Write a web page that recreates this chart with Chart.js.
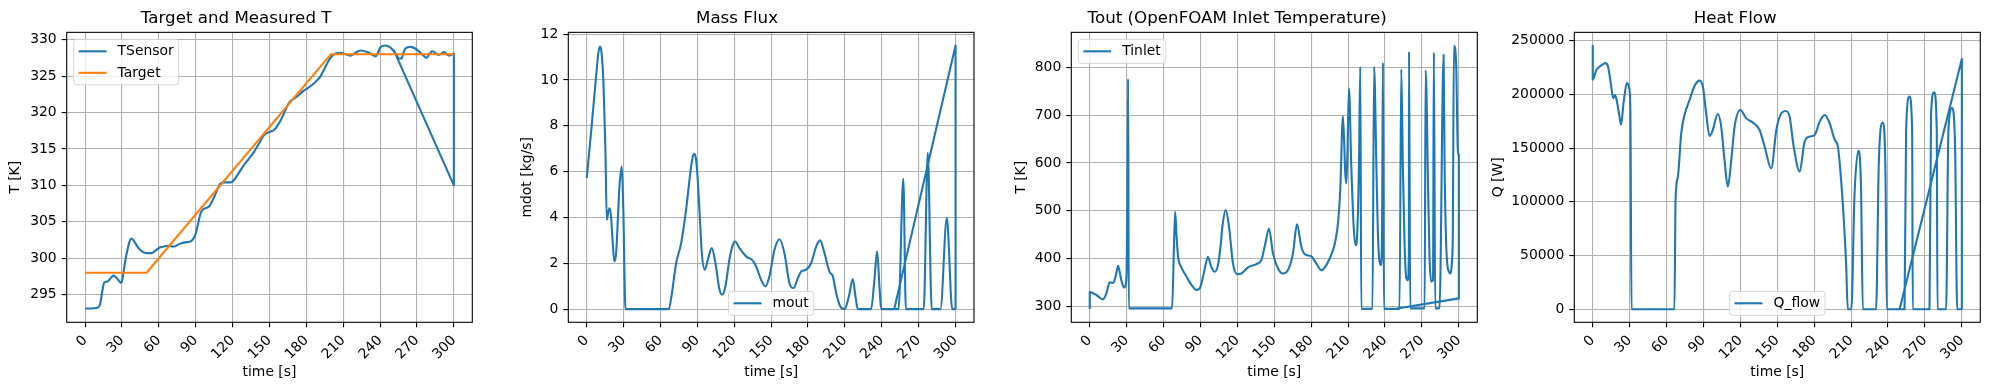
<!DOCTYPE html>
<html>
<head>
<meta charset="utf-8">
<script src="https://cdn.jsdelivr.net/npm/chart.js@4.4.0/dist/chart.umd.min.js"></script>
<style>
  html, body { margin: 0; padding: 0; background: #fff; }
  #fig { position: relative; width: 1990px; height: 390px; overflow: hidden; }
  canvas { position: absolute; top: 0; }
</style>
</head>
<body>
<div id="fig">
  <canvas id="c1" width="500" height="390" style="left:0px"></canvas>
  <canvas id="c2" width="497" height="390" style="left:500px"></canvas>
  <canvas id="c3" width="493" height="390" style="left:997px"></canvas>
  <canvas id="c4" width="500" height="390" style="left:1490px"></canvas>
</div>
<script>
// tick labels
var timeTicks = [0, 30, 60, 90, 120, 150, 180, 210, 240, 270, 300];
var tempTicks = [295, 300, 305, 310, 315, 320, 325, 330];
var massTicks = [0, 2, 4, 6, 8, 10, 12];
var inletTicks = [300, 400, 500, 600, 700, 800];
var heatTicks = [0, 50000, 100000, 150000, 200000, 250000];

// TSensor (the last two points are the jump back at the end of the run)
var tSensorTime = [0, 5, 10, 12, 14, 15.4, 18, 20.5, 23, 25.5, 28, 29.5, 31, 32.5, 34, 36, 37.7, 40, 42.5, 46.6,
  50, 54, 57, 60, 64, 67, 72.4, 76, 79, 83, 86, 88.5, 90, 92, 94, 97, 100.8, 103, 105, 108,
  110.3, 114, 118.4, 121, 125, 129.3, 133, 137.4, 141, 145.5, 148.2, 151, 153.7, 156.5, 159, 161.8, 164.5, 167.2, 170, 174,
  177, 180.8, 184, 187.5, 191.6, 195, 198.4, 201, 203.8, 207.9, 212, 216, 220, 224, 229.5, 233, 236.3, 238.5, 240.4, 244.4,
  248.5, 252.6, 255.5, 257.5, 259, 260.7, 264.8, 270.2, 274, 277.8, 280, 282.4, 287.8, 291.9, 296, 300, 300, 251];
var tSensorK = [293.1, 293.1, 293.2, 293.6, 295.5, 296.6, 296.8, 297.2, 297.6, 297.3, 296.8, 296.6, 297.8, 299.5, 300.8, 302.2, 302.7, 302.3, 301.6, 300.9,
  300.7, 300.7, 301.0, 301.4, 301.6, 301.7, 301.6, 301.9, 302.1, 302.2, 302.3, 302.8, 303.4, 304.8, 306.2, 306.8, 307.1, 307.7, 308.4, 309.6,
  310.3, 310.4, 310.4, 310.7, 311.7, 312.8, 313.6, 314.6, 315.6, 316.9, 317.2, 317.4, 317.6, 318.2, 318.9, 319.9, 320.9, 321.6, 321.9, 322.4,
  322.9, 323.3, 323.7, 324.2, 325.0, 326.1, 327.2, 327.8, 328.1, 328.2, 328.0, 327.8, 328.2, 328.5, 328.3, 328.0, 327.7, 328.3, 329.0, 329.2,
  328.9, 328.1, 327.4, 327.4, 328.2, 328.8, 329.0, 328.6, 328.0, 327.5, 328.0, 328.4, 327.9, 328.3, 327.8, 328.1, 310.0, 328.6];

var targetTime = [0, 50, 200, 300];
var targetK = [298, 298, 328, 328];

// mout
var moutTime = [0, 3.5, 7.6, 9.5, 10.8, 12, 13.6, 15.2, 16.3, 17.1, 18.4, 19.8, 21, 22.5, 23.9, 25.3, 26.6, 28.5, 29.8, 31.5,
  66.7, 69, 72.7, 76.8, 80.8, 84.9, 86.5, 87.6, 89, 90.3, 92, 93.6, 96, 98.5, 101.7, 104.7, 108, 110.1, 112.8, 116,
  118.5, 120.7, 124.2, 129.6, 134.5, 137.8, 141.8, 145.4, 148.6, 152.7, 156.8, 160.8, 164.9, 168.2, 171.7, 174.4, 178.5, 182.5, 186.6, 189.8,
  193.4, 197.4, 200.2, 202.9, 206.1, 209.7, 213.2, 216.4, 218.6, 220.5, 231.3, 234, 236.2, 238.1, 239.5, 253.6, 257.5, 259.6, 274.1, 277.4,
  280.6, 287.7, 292.9, 297.3, 300, 300, 250.1];
var moutVal = [5.72, 7.7, 10.15, 11.2, 11.46, 11.2, 9.86, 6.95, 3.9, 4.1, 4.4, 4.04, 3.0, 2.08, 2.44, 3.9, 5.35, 6.22, 4.2, 0,
  0, 0.6, 2.0, 2.88, 4.33, 6.22, 6.7, 6.78, 6.5, 5.64, 4.0, 2.44, 1.72, 2.15, 2.66, 2.0, 0.84, 0.63, 0.99, 2.15,
  2.75, 2.95, 2.66, 2.3, 2.15, 1.86, 1.28, 0.99, 1.43, 2.59, 3.05, 2.44, 1.13, 0.92, 1.35, 1.64, 1.72, 2.0, 2.73, 3.0,
  2.44, 1.64, 1.43, 0.7, 0.12, 0, 0.55, 1.31, 0.55, 0, 0, 1.28, 2.52, 0.99, 0, 0, 5.69, 0, 0, 6.82,
  0, 0, 3.98, 0, 0, 11.5, 0];

// Tinlet
var tinletTime = [0, 0, 5.4, 10.8, 13.6, 16.3, 18.4, 19.8, 21.5, 23, 24.5, 25.7, 27.9, 29.8, 30.5, 31.2, 31.7, 66.9, 68.5, 69.4,
  70.5, 71.8, 74.5, 78.6, 82.7, 86.7, 89.4, 92.1, 94, 96, 98.8, 101.5, 104.2, 106.5, 107.8, 110.5, 113.2, 116.4, 119.7, 123.2,
  128.6, 135.4, 139.5, 142.7, 145.7, 148.9, 153, 157, 161.1, 165.2, 168.4, 172, 174.7, 180, 184.1, 188.2, 192.3, 197.7, 199.8, 202,
  203.6, 205.8, 207.7, 208.5, 209.3, 210.7, 212.6, 214.5, 216.1, 217.4, 218.8, 219.9, 220.7, 229.8, 231.1, 233, 234.2, 235.6, 237, 237.7,
  238.3, 239.1, 251.8, 253.2, 254.5, 255.9, 257.3, 258.6, 259.4, 259.5, 260.5, 272.2, 273, 275.2, 276.2, 277.6, 279, 279.7, 280.8, 284.3,
  287.6, 288.4, 289.7, 291.9, 293, 294.5, 295.1, 296, 297.8, 299.2, 300, 300, 250];
var tinletK = [295, 330, 324, 315, 328, 351, 349, 352, 368, 385, 370, 355, 339.6, 359, 500, 776, 296, 296, 430, 498,
  450, 404, 382, 362.5, 345, 334.7, 338, 362.5, 385, 404, 383, 372.5, 386.5, 430, 466.7, 501.5, 466.7, 390, 367.6, 369,
  381.6, 388.6, 397, 431.8, 463, 411, 379.5, 369, 376, 411, 472, 424.8, 409.5, 405, 390, 376, 386.5, 418, 438.8, 480,
  543, 698, 578, 557, 606, 756, 592, 466.7, 428, 452.7, 592, 801, 295, 295, 801, 592, 453, 393, 386.5, 501,
  810, 295, 295, 796, 592, 430, 359, 355, 420, 833, 296, 296, 794, 522, 400, 352, 355, 831, 296, 296,
  826, 600, 430, 372.5, 369, 400, 452.7, 845, 807, 626, 616, 317, 296];

// Q_flow
var qTime = [0, 0, 2.8, 6.9, 10.5, 12.5, 14.7, 16.7, 18, 19.4, 21.7, 23, 25, 27.8, 29.7, 30.6, 31.5, 66.4, 67.3, 69.2,
  71.9, 74.6, 78.7, 82.7, 86.8, 89.5, 92.2, 94.9, 97.1, 101.7, 104.4, 107.1, 109.8, 112.6, 115.3, 119.9, 124.8, 130.2, 135.6, 139.7,
  145.1, 149.2, 153.2, 156.8, 160, 163.3, 168.2, 172.2, 176.3, 180.4, 184.4, 188.5, 192.6, 196.7, 199.2, 203.2, 205.9, 207.3, 210.2, 212.7,
  216, 218.1, 219.5, 230.3, 232.5, 235.7, 237.9, 239, 253.4, 254.7, 257.4, 259.6, 260.1, 273.7, 275, 277.5, 279.6, 280.2, 287.2, 289.1,
  292.1, 294.5, 296.2, 300, 300, 249.4];
var qWatt = [246000, 213800, 222400, 227000, 229100, 225500, 210000, 196300, 199400, 194800, 179500, 171800, 191700, 210700, 205500, 182500, 0, 0, 101700, 123400,
  163800, 180800, 194800, 207800, 212800, 207200, 182400, 161300, 165300, 181800, 170000, 139000, 114100, 139000, 170000, 185500, 177700, 173700, 166900, 151400,
  131200, 166900, 182400, 184600, 179300, 151400, 128100, 156000, 160700, 162200, 174600, 180800, 173000, 157600, 151600, 98800, 42900, 0, 0, 105000,
  147800, 111200, 0, 0, 136000, 173900, 129800, 0, 0, 167000, 198000, 167000, 0, 0, 182600, 201900, 167000, 0, 0, 167000,
  187300, 151600, 0, 0, 233000, 0];

var FONT = '"DejaVu Sans", sans-serif';
var BLUE = '#1f77b4';
var ORANGE = '#ff7f0e';
var TICK_SIZE = 13.9;

var measureCtx = document.createElement('canvas').getContext('2d');
function textWidth(txt, size) {
  measureCtx.font = size + 'px "DejaVu Sans"';
  return measureCtx.measureText(txt).width;
}

function pts(xs, ys) {
  return xs.map(function (x, i) { return { x: x, y: ys[i] }; });
}

// main run drawn smooth, the jump back at the end drawn straight
function seriesSets(label, xs, ys, color) {
  var all = pts(xs, ys);
  var n = all.length;
  return [
    { label: label, data: all.slice(0, n - 2), borderColor: color, borderWidth: 2.1, pointRadius: 0,
      cubicInterpolationMode: 'monotone', borderJoinStyle: 'round', order: 2 },
    { label: label, tail: true, data: all.slice(n - 3), borderColor: color, borderWidth: 2.1, pointRadius: 0,
      tension: 0, borderJoinStyle: 'round', order: 2 }
  ];
}

// spines + matplotlib style legend box
var mplFrame = {
  id: 'mplFrame',
  afterDatasetsDraw: function (chart, args, opts) {
    var a = chart.chartArea, c = chart.ctx;
    c.save();
    c.strokeStyle = '#000';
    c.lineWidth = 1.1;
    c.strokeRect(a.left, a.top, a.right - a.left, a.bottom - a.top);

    var items = chart.data.datasets.filter(function (d) { return !d.tail; });
    var fs = TICK_SIZE, pad = 5, handle = 27.8, hpad = 11.1;
    var maxW = 0;
    items.forEach(function (d) { maxW = Math.max(maxW, textWidth(d.label, fs)); });
    var w = pad + handle + hpad + maxW + pad;
    var h = 24 + (items.length - 1) * 21.5;
    var left, top;
    if (opts.loc === 'lower center') {
      left = (a.left + a.right) / 2 - w / 2;
      top = a.bottom - 7 - h;
    } else {
      left = a.left + 7;
      top = a.top + 7;
    }
    var r = 3;
    c.beginPath();
    c.moveTo(left + r, top);
    c.lineTo(left + w - r, top);
    c.arcTo(left + w, top, left + w, top + r, r);
    c.lineTo(left + w, top + h - r);
    c.arcTo(left + w, top + h, left + w - r, top + h, r);
    c.lineTo(left + r, top + h);
    c.arcTo(left, top + h, left, top + h - r, r);
    c.lineTo(left, top + r);
    c.arcTo(left, top, left + r, top, r);
    c.closePath();
    c.fillStyle = 'rgba(255,255,255,0.8)';
    c.fill();
    c.strokeStyle = 'rgba(204,204,204,0.8)';
    c.lineWidth = 1;
    c.stroke();

    c.font = fs + 'px ' + FONT;
    c.textBaseline = 'middle';
    c.textAlign = 'left';
    items.forEach(function (d, i) {
      var cy = top + 12 + i * 21.5;
      c.beginPath();
      c.strokeStyle = d.borderColor;
      c.lineWidth = 2.1;
      c.lineCap = 'square';
      c.moveTo(left + pad + 1, cy);
      c.lineTo(left + pad + handle - 1, cy);
      c.stroke();
      c.fillStyle = '#000';
      c.fillText(d.label, left + pad + handle + hpad, cy + 0.5);
    });
    c.restore();
  }
};

function makeChart(id, cfg) {
  var tickFont = { family: FONT, size: TICK_SIZE };
  return new Chart(document.getElementById(id), {
    type: 'line',
    data: { datasets: cfg.datasets },
    options: {
      responsive: false,
      animation: false,
      devicePixelRatio: 1,
      events: [],
      layout: { padding: { left: 0, right: cfg.padRight, top: 0, bottom: 0 } },
      plugins: {
        legend: { display: false },
        tooltip: { enabled: false },
        title: { display: true, text: cfg.title, color: '#000',
          font: { family: FONT, size: 16.7, weight: 'normal' }, padding: { top: 8.5, bottom: 3.8 } },
        mplFrame: { loc: cfg.loc }
      },
      scales: {
        x: {
          type: 'linear', min: -15, max: 315,
          afterBuildTicks: function (s) { s.ticks = timeTicks.map(function (v) { return { value: v }; }); },
          afterFit: function (s) { s.height = 67.7; s.paddingLeft = 0; s.paddingRight = 0; },
          ticks: {
            autoSkip: false, minRotation: 45, maxRotation: 45, color: '#000', font: tickFont, padding: 5,
            labelOffset: function (ctx) { return ctx.tick ? 0.354 * textWidth(String(ctx.tick.value), TICK_SIZE) : 0; },
            callback: function (v) { return String(v); }
          },
          grid: { color: '#b0b0b0', lineWidth: 1.1, tickColor: '#000', tickLength: 5, tickWidth: 1.1 },
          border: { display: false },
          title: { display: true, text: 'time [s]', color: '#000', font: tickFont, padding: { top: 0, bottom: 9 } }
        },
        y: {
          type: 'linear', min: cfg.yMin, max: cfg.yMax,
          afterBuildTicks: function (s) { s.ticks = cfg.yTicks.map(function (v) { return { value: v }; }); },
          afterFit: function (s) { s.width = cfg.yWidth; s.paddingTop = 0; s.paddingBottom = 0; },
          ticks: { color: '#000', font: tickFont, padding: 5, callback: function (v) { return String(v); } },
          grid: { color: '#b0b0b0', lineWidth: 1.1, tickColor: '#000', tickLength: 5, tickWidth: 1.1 },
          border: { display: false },
          title: { display: true, text: cfg.yLabel, color: '#000', font: tickFont, padding: cfg.yTitlePad }
        }
      }
    },
    plugins: [mplFrame]
  });
}

var tSets = seriesSets('TSensor', tSensorTime, tSensorK, BLUE);
tSets.push({ label: 'Target', data: pts(targetTime, targetK), borderColor: ORANGE, borderWidth: 2.1,
  pointRadius: 0, tension: 0, borderJoinStyle: 'round', order: 1 });

makeChart('c1', { title: 'Target and Measured T', yLabel: 'T [K]', yMin: 291.2, yMax: 331.0, yTicks: tempTicks,
  yWidth: 66.7, padRight: 27.7, yTitlePad: 6.7, loc: 'upper left', datasets: tSets });

makeChart('c2', { title: 'Mass Flux', yLabel: 'mdot [kg/s]', yMin: -0.575, yMax: 12.075, yTicks: massTicks,
  yWidth: 68.3, padRight: 23, yTitlePad: 19.5, loc: 'lower center', datasets: seriesSets('mout', moutTime, moutVal, BLUE) });

makeChart('c3', { title: 'Tout (OpenFOAM Inlet Temperature)', yLabel: 'T [K]', yMin: 267, yMax: 873, yTicks: inletTicks,
  yWidth: 74.3, padRight: 12.7, yTitlePad: 16.3, loc: 'upper left', datasets: seriesSets('Tinlet', tinletTime, tinletK, BLUE) });

makeChart('c4', { title: 'Heat Flow', yLabel: 'Q [W]', yMin: -12200, yMax: 257800, yTicks: heatTicks,
  yWidth: 84.3, padRight: 9.7, yTitlePad: 0.5, loc: 'lower center', datasets: seriesSets('Q_flow', qTime, qWatt, BLUE) });
</script>
</body>
</html>
